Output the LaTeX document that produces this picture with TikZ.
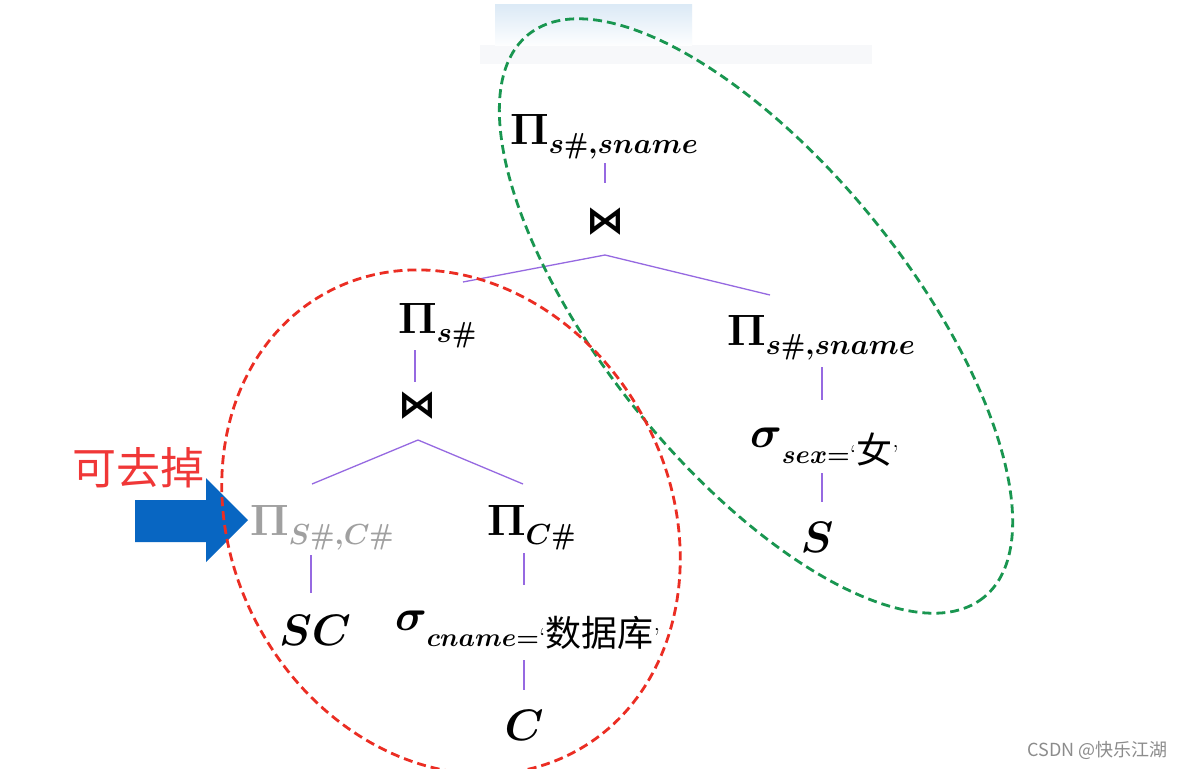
\RequirePackage{fix-cm}
\documentclass[tikz,border=0pt]{standalone}
\usepackage{fontspec}
\usepackage{amsmath}
\newfontfamily\cjk{Noto Sans CJK SC}
\newfontfamily\djv{DejaVu Sans}
\definecolor{linkpurple}{RGB}{150,105,225}
\definecolor{dgreen}{RGB}{25,150,80}
\definecolor{dred}{RGB}{235,45,35}
\definecolor{lblred}{RGB}{240,55,55}
\definecolor{arrblue}{RGB}{8,102,194}
\definecolor{dimgray}{RGB}{160,160,160}
\definecolor{wmgray}{RGB}{140,140,140}
\definecolor{topblue}{RGB}{220,234,246}
\definecolor{bandgray}{RGB}{247,248,250}
\newcommand{\PiN}[1]{{\fontsize{44}{44}\selectfont$\mathbf{\Pi}$}{\fontsize{29}{29}\selectfont\raisebox{-9pt}{$#1$}}}
\newcommand{\SigN}[1]{{\fontsize{44}{44}\selectfont$\sigma$}{\fontsize{26}{26}\selectfont\raisebox{-16pt}{#1}}}
\newcommand{\RelN}[1]{{\fontsize{44}{44}\selectfont$#1$}}
\newcommand{\JoinN}{{\djv\bfseries\fontsize{38}{38}\selectfont ⋈}}
\newcommand{\zh}[1]{{\cjk\fontsize{36}{36}\selectfont #1}}
\begin{document}
\begin{tikzpicture}[x=1pt,y=-1pt,
  op/.style={inner sep=0pt, outer sep=0pt, font=\boldmath, anchor=base west},
  rel/.style={inner sep=0pt, outer sep=0pt, font=\boldmath, anchor=base},
  link/.style={draw=linkpurple, line width=1.3pt},
  gdash/.style={draw=dgreen, line width=2.8pt, dash pattern=on 9pt off 5pt},
  rdash/.style={draw=dred, line width=2.8pt, dash pattern=on 9pt off 5pt}]
\useasboundingbox (0,0) rectangle (1185,768);
\fill[white] (0,0) rectangle (1185,768);
% faint background patches
\fill[bandgray] (480,45) rectangle (872,64);
\shade[top color=topblue, bottom color=white!96!topblue] (495,5) rectangle (692,46);

% nodes
\node[op] (p1) at (510,144) {\PiN{s\#{,}sname}};
\node[rel] (j1) at (605,233) {\JoinN};
\node[op] (p2) at (398,333) {\PiN{s\#}};
\node[rel] (j2) at (417,417) {\JoinN};
\node[op] (p3) at (727,345) {\PiN{s\#{,}sname}};
\node[op] (s1) at (750,447) {\SigN{$sex{=}$‘\zh{女}’}};
\node[rel] (rS) at (817,552) {\RelN{S}};
\node[op, text=dimgray] (p4) at (250,535) {\PiN{S\#{,}C\#}};
\node[op] (p5) at (487,535) {\PiN{C\#}};
\node[rel] (rSC) at (315,645) {\RelN{SC}};
\node[op] (s2) at (395,630) {\SigN{$cname{=}$‘\zh{数据库}’}};
\node[rel] (rC) at (524,740) {\RelN{C}};

% connectors
\draw[link] ([shift={(95,19)}]p1.base west) -- ([shift={(0,-50)}]j1.base);
\draw[link] ([shift={(65,-51)}]p2.base west) -- ([shift={(0,22)}]j1.base) -- ([shift={(43,-50)}]p3.base west);
\draw[link] ([shift={(17,17)}]p2.base west) -- ([shift={(-2,-35)}]j2.base);
\draw[link] ([shift={(62,-51)}]p4.base west) -- ([shift={(1,23)}]j2.base) -- ([shift={(36,-51)}]p5.base west);
\draw[link] ([shift={(61,20)}]p4.base west) -- ([shift={(-4,-52)}]rSC.base);
\draw[link] ([shift={(37,18)}]p5.base west) -- ([shift={(129,-45)}]s2.base west);
\draw[link] ([shift={(129,30)}]s2.base west) -- ([shift={(0,-50)}]rC.base);
\draw[link] ([shift={(95,22)}]p3.base west) -- ([shift={(72,-47)}]s1.base west);
\draw[link] ([shift={(72,26)}]s1.base west) -- ([shift={(5,-50)}]rS.base);

% label and block arrow
\node[text=lblred, font=\cjk\fontsize{44}{44}\selectfont, inner sep=0pt] (lbl) at (138,468) {可去掉};
\fill[arrblue] (135,500) -- (206,500) -- (206,478) -- (248,520) -- (206,562) -- (206,542) -- (135,542) -- cycle;

% groups
\draw[gdash, rotate around={-51:(756,316)}] (756,316) ellipse [x radius=362, y radius=152];
\draw[rdash, rotate around={28.5:(451,522)}] (451,522) ellipse [x radius=219, y radius=261];

% watermark
\node[anchor=base east, text=wmgray, font=\cjk\fontsize{18}{18}\selectfont, inner sep=0pt] (wm) at (1168,756) {CSDN @快乐江湖};
\end{tikzpicture}
\end{document}
